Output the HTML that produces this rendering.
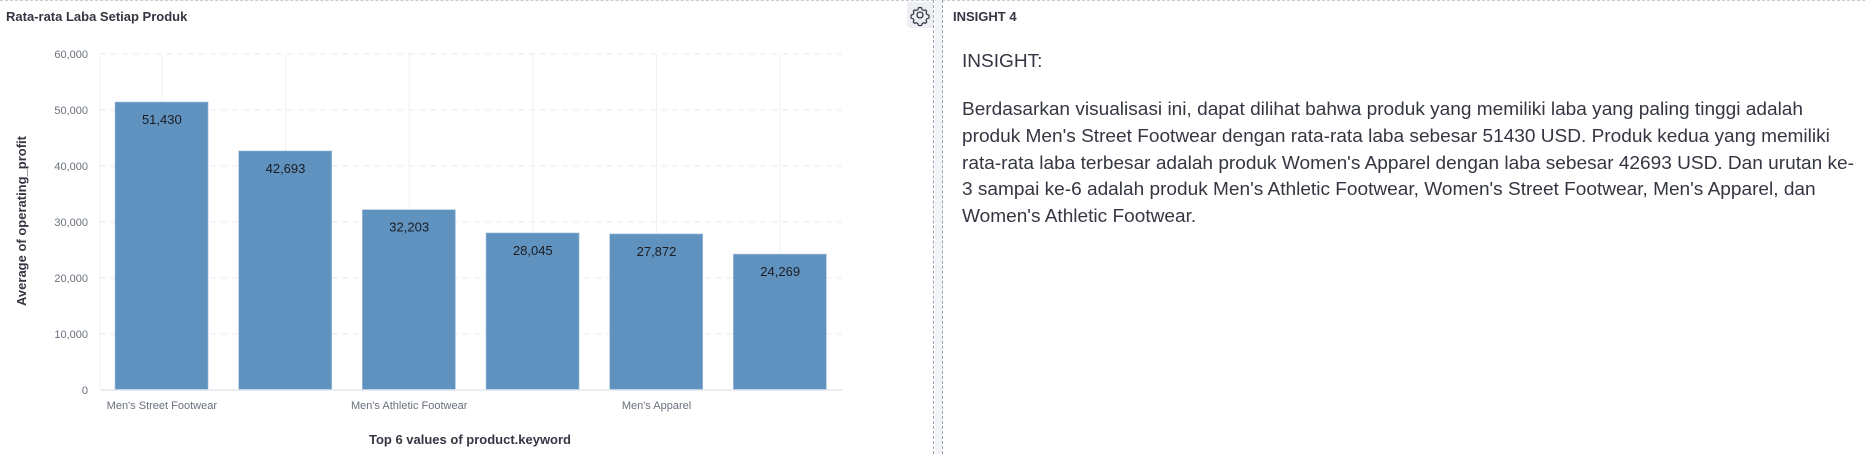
<!DOCTYPE html>
<html><head><meta charset="utf-8"><style>
body{margin:0;width:1865px;height:454px;background:#fff;overflow:hidden;font-family:"Liberation Sans",sans-serif;position:relative}
#left{position:absolute;left:0;top:0;width:934px;height:454px;border-top:1px dashed #c5c9d3;border-right:1px dashed #98a2b3;box-sizing:border-box;background:#fff}
#gap{position:absolute;left:935px;top:0;width:7px;height:454px;background:#f1f3f6}
#right{position:absolute;left:942px;top:0;width:923px;height:454px;border-left:1px dashed #98a2b3;border-top:1px dashed #c5c9d3;box-sizing:border-box;background:#fff}
.ptitle{position:absolute;font-weight:bold;font-size:13px;color:#343741}
#gear{position:absolute;left:907px;top:1px;width:26px;height:26px;background:#eceef2;border-radius:0 0 0 4px}
#body{position:absolute;left:19px;top:0;font-size:18px;color:#343741;white-space:nowrap;transform-origin:0 0}
#body div{position:absolute;left:0;line-height:26px}
</style></head><body>
<div id="left">
<div class="ptitle" style="left:6px;top:8px">Rata-rata Laba Setiap Produk</div>
<svg id="chart" width="934" height="454" style="position:absolute;left:0;top:0"></svg>
<div id="gear"><svg width="26" height="26" viewBox="0 0 26 26"><circle cx="13" cy="13" r="3" fill="none" stroke="#343741" stroke-width="1.3"/><path d="M13 5.5l1.6.3.5 1.8 1.6.9 1.8-.6 1.2 1.2-.6 1.8.9 1.6 1.8.5.3 1.6-.3 1.6-1.8.5-.9 1.6.6 1.8-1.2 1.2-1.8-.6-1.6.9-.5 1.8-1.6.3-1.6-.3-.5-1.8-1.6-.9-1.8.6-1.2-1.2.6-1.8-.9-1.6-1.8-.5-.3-1.6.3-1.6 1.8-.5.9-1.6-.6-1.8 1.2-1.2 1.8.6 1.6-.9.5-1.8z" fill="none" stroke="#343741" stroke-width="1.2"/></svg></div>
</div>
<div id="gap"></div>
<div id="right">
<div class="ptitle" style="left:10px;top:8px">INSIGHT 4</div>
<div id="body">
<div style="top:47px">INSIGHT:</div>
<div id="l1" style="top:95px">Berdasarkan visualisasi ini, dapat dilihat bahwa produk yang memiliki laba yang paling tinggi adalah</div>
<div style="top:122px">produk Men's Street Footwear dengan rata-rata laba sebesar 51430 USD. Produk kedua yang memiliki</div>
<div style="top:149px">rata-rata laba terbesar adalah produk Women's Apparel dengan laba sebesar 42693 USD. Dan urutan ke-</div>
<div style="top:175px">3 sampai ke-6 adalah produk Men's Athletic Footwear, Women's Street Footwear, Men's Apparel, dan</div>
<div style="top:202px">Women's Athletic Footwear.</div>
</div>
</div>
<script>
const categories=["Men's Street Footwear","Women's Apparel","Men's Athletic Footwear","Women's Street Footwear","Men's Apparel","Women's Athletic Footwear"];
const values=[51430,42693,32203,28045,27872,24269];
const valueLabels=["51,430","42,693","32,203","28,045","27,872","24,269"];
const yTicks=[0,10000,20000,30000,40000,50000,60000];
const yTickLabels=["0","10,000","20,000","30,000","40,000","50,000","60,000"];
const NS="http://www.w3.org/2000/svg";
const svg=document.getElementById('chart');
const X0=100,X1=842,Y0=389,Y1=53,YMAX=60000;
const band=(X1-X0)/categories.length;
const y=v=>Y0-(v/YMAX)*(Y0-Y1);
const xb=i=>X0+i*band;
function mk(t,a){const e=document.createElementNS(NS,t);for(const k in a)e.setAttribute(k,a[k]);svg.appendChild(e);return e;}
yTicks.forEach((t,i)=>{
 const l=mk('line',{x1:X0,x2:X1,y1:y(t),y2:y(t),stroke:'#e6e9ef','stroke-dasharray':i?'6,5':'','stroke-width':1});
 
 
 const tx=mk('text',{x:88,y:y(t)+4,'text-anchor':'end','font-size':11,fill:'#69707d','font-family':'Liberation Sans, sans-serif'});
 tx.textContent=yTickLabels[i];
 
 
});
mk('line',{x1:X0,x2:X0,y1:Y1,y2:Y0,stroke:'#eef0f4'});
categories.forEach((c,i)=>{
 const g=mk('line',{x1:xb(i)+band/2,x2:xb(i)+band/2,y1:Y1,y2:Y0,stroke:'#eef0f4'});
 
 
});
categories.forEach((c,i)=>{
 const r=mk('rect',{x:xb(i)+15,y:y(values[i]),width:band-30.6,height:Y0-y(values[i]),fill:'#6092c0',stroke:'#a9c3dd','stroke-width':0.6});
 
 
 const t=mk('text',{x:xb(i)+band/2,y:y(values[i])+22,'text-anchor':'middle','font-size':13,fill:'#1a1c21','font-family':'Liberation Sans, sans-serif'});
 t.textContent=valueLabels[i];
 
 
 if(i%2===0){
  const xl=mk('text',{x:xb(i)+band/2,y:408,'text-anchor':'middle','font-size':11,fill:'#69707d','font-family':'Liberation Sans, sans-serif'});
  xl.textContent=c;
  
  
 }
});
mk('line',{x1:X0,x2:X1,y1:Y0,y2:Y0,stroke:'#e3e6ec','stroke-width':1.5});
const xt=mk('text',{x:470,y:443,'text-anchor':'middle','font-size':13,'font-weight':'bold',fill:'#343741','font-family':'Liberation Sans, sans-serif'});
xt.textContent='Top 6 values of product.keyword';


const yt=mk('text',{x:0,y:0,'text-anchor':'middle','font-size':13,'font-weight':'bold',fill:'#343741','font-family':'Liberation Sans, sans-serif',transform:'translate(26,220) rotate(-90)'});
yt.textContent='Average of operating_profit';


const l1=document.getElementById('l1');
const k=841/l1.getBoundingClientRect().width;
document.getElementById('body').style.transform='scaleX('+k+')';
</script>
</body></html>
